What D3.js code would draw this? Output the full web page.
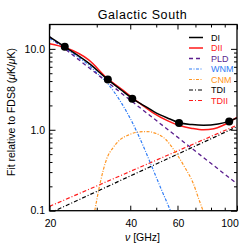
<!DOCTYPE html>
<html><head><meta charset="utf-8">
<script src="https://cdn.jsdelivr.net/npm/d3@7"></script>
<style>
body{margin:0;background:#fff}
svg{display:block}
text{font-family:"Liberation Sans",Arial,Helvetica,sans-serif;fill:#000}
</style>
</head><body><svg id="c" width="249" height="249"></svg>
<script>
// ---- data ----
const bandFreq = [22.8, 33, 40.7, 60.8, 93.5];
const bandVal  = [10.6, 4.17, 2.42, 1.21, 1.27];

const diFreq  = [20, 23, 28, 33, 37, 41, 45, 49, 55, 61, 68, 75, 85, 93, 100];
const diVal   = [14.1, 10.4, 6.65, 4.16, 3.1, 2.40, 1.99, 1.68, 1.40, 1.22, 1.16, 1.14, 1.18, 1.27, 1.40];

const diiFreq = [20, 23, 28, 33, 37, 41, 45, 49, 55, 61, 68, 75, 82, 88, 93, 100];
const diiVal  = [11.6, 10.3, 7.3, 4.25, 3.2, 2.45, 1.95, 1.60, 1.30, 1.13, 1.04, 1.0, 1.03, 1.12, 1.23, 1.42];

const pldFreq = [20, 100];
const pldVal  = [14.1, 0.215];

const wnmFreq = [20, 23, 26, 28, 30, 33, 36.6, 40, 42.3, 45, 48, 52, 56.5];
const wnmVal  = [13.5, 10.0, 7.6, 6.3, 5.05, 3.7, 2.3, 1.38, 0.95, 0.6, 0.36, 0.19, 0.1];

const cnmFreq = [29.5, 30.9, 32.7, 34.5, 36.6, 39.3, 42.3, 46, 50, 54, 59.4, 64, 68.6, 72, 74.7];
const cnmVal  = [0.1, 0.22, 0.44, 0.6, 0.75, 0.86, 0.93, 0.95, 0.9, 0.77, 0.51, 0.34, 0.22, 0.14, 0.1];

const tdiFreq = [20, 100];
const tdiVal  = [0.093, 1.09];

const tdiiFreq = [20, 100];
const tdiiVal  = [0.113, 1.14];

const xMajor = [20, 40, 60, 100];
const xMinor = [30, 50, 70, 80, 90];
const xLabels = ["20", "40", "60", "100"];
const yMajor = [0.1, 1, 10];
const yMinor = [0.2,0.3,0.4,0.5,0.6,0.7,0.8,0.9,2,3,4,5,6,7,8,9];
const yLabels = ["0.1", "1.0", "10.0"];

const legendNames = ["DI", "DII", "PLD", "WNM", "CNM", "TDI", "TDII"];

// ---- styles ----
const C = {DI:"#000000", DII:"#ff1a1a", PLD:"#5b1f8e", WNM:"#2f7cf6", CNM:"#ff9522", TDI:"#000000", TDII:"#ff1a1a"};
const S = {
  DI:{w:1.5,d:null}, DII:{w:1.5,d:null}, PLD:{w:1.3,d:"4,3"},
  WNM:{w:1.2,d:"3,1.5,1,1.5"}, CNM:{w:1.2,d:"3,1.5,1,1.5"},
  TDI:{w:1.2,d:"4,2,1,2"}, TDII:{w:1.2,d:"4,2,1,2"}
};

const L = 49.5, R = 237, T = 24.5, B = 210.7;
const svg = d3.select("#c");
const x = d3.scaleLog().domain([20, 100]).range([L, R]);
const y = d3.scaleLog().domain([0.1, 20]).range([B, T]);

svg.append("defs").append("clipPath").attr("id","clip")
  .append("rect").attr("x",L).attr("y",T).attr("width",R-L).attr("height",B-T);

const series = {
  DI: d3.zip(diFreq, diVal), DII: d3.zip(diiFreq, diiVal), PLD: d3.zip(pldFreq, pldVal),
  WNM: d3.zip(wnmFreq, wnmVal), CNM: d3.zip(cnmFreq, cnmVal),
  TDI: d3.zip(tdiFreq, tdiVal), TDII: d3.zip(tdiiFreq, tdiiVal)
};
const line = d3.line().x(d => x(d[0])).y(d => y(d[1])).curve(d3.curveMonotoneX);

const g = svg.append("g").attr("clip-path","url(#clip)");
["TDII","TDI","CNM","WNM","PLD","DII","DI"].forEach(k => {
  g.append("path").attr("d", line(series[k])).attr("fill","none")
    .attr("stroke", C[k]).attr("stroke-width", S[k].w)
    .attr("stroke-dasharray", S[k].d);
});

svg.append("g").selectAll("circle").data(d3.zip(bandFreq, bandVal)).join("circle")
  .attr("cx", d => x(d[0])).attr("cy", d => y(d[1])).attr("r", 4).attr("fill","#000");

// ---- axes (ticks inside, all four sides) ----
function ax(gen, tx, ty, vals, size) {
  const a = svg.append("g").attr("transform",`translate(${tx},${ty})`)
    .call(gen.tickValues(vals).tickSize(size).tickFormat(""));
  a.select(".domain").remove();
  a.selectAll("line").attr("stroke","#000").attr("stroke-width",1);
}
ax(d3.axisBottom(x), 0, B, xMajor, -5);
ax(d3.axisBottom(x), 0, B, xMinor, -3);
ax(d3.axisTop(x), 0, T, xMajor, -5);
ax(d3.axisTop(x), 0, T, xMinor, -3);
ax(d3.axisLeft(y), L, 0, yMajor, -6);
ax(d3.axisLeft(y), L, 0, yMinor, -3);
ax(d3.axisRight(y), R, 0, yMajor, -6);
ax(d3.axisRight(y), R, 0, yMinor, -3);

svg.append("rect").attr("x",L).attr("y",T).attr("width",R-L).attr("height",B-T)
  .attr("fill","none").attr("stroke","#000").attr("stroke-width",1.3);

// tick labels
svg.append("g").selectAll("text").data(xMajor).join("text")
  .attr("x", (d,i) => i === xMajor.length-1 ? x(d)-7 : x(d)+1).attr("y", 227)
  .attr("text-anchor","middle").attr("font-size",10.5).text((d,i) => xLabels[i]);
svg.append("g").selectAll("text").data(yMajor).join("text")
  .attr("x", 45).attr("y", d => y(d)).attr("dy","0.36em")
  .attr("text-anchor","end").attr("font-size",10.5).text((d,i) => yLabels[i]);

// titles
svg.append("text").attr("x",142.5).attr("y",18.5).attr("text-anchor","middle")
  .attr("font-size",12.5).attr("letter-spacing","0.6").text("Galactic South");

const xl = svg.append("text").attr("x",142.5).attr("y",241).attr("text-anchor","middle").attr("font-size",10.5);
xl.append("tspan").attr("font-style","italic").text("ν");
xl.append("tspan").text(" [GHz]");

const yl = svg.append("text").attr("transform","translate(15,112) rotate(-90)")
  .attr("text-anchor","middle").attr("font-size",10.5);
yl.append("tspan").text("Fit relative to FDS8 (");
yl.append("tspan").attr("font-style","italic").text("μ");
yl.append("tspan").text("K/");
yl.append("tspan").attr("font-style","italic").text("μ");
yl.append("tspan").text("K)");

// legend
const lg = svg.append("g");
legendNames.forEach((k, i) => {
  const yy = 37.5 + i * 10.5;
  lg.append("line").attr("x1",189).attr("x2",203).attr("y1",yy).attr("y2",yy)
    .attr("stroke",C[k]).attr("stroke-width",S[k].w).attr("stroke-dasharray",S[k].d);
  lg.append("text").attr("x",211).attr("y",yy).attr("dy","0.35em")
    .attr("font-size",9).style("fill",C[k]).text(k);
});
</script>
</body></html>
